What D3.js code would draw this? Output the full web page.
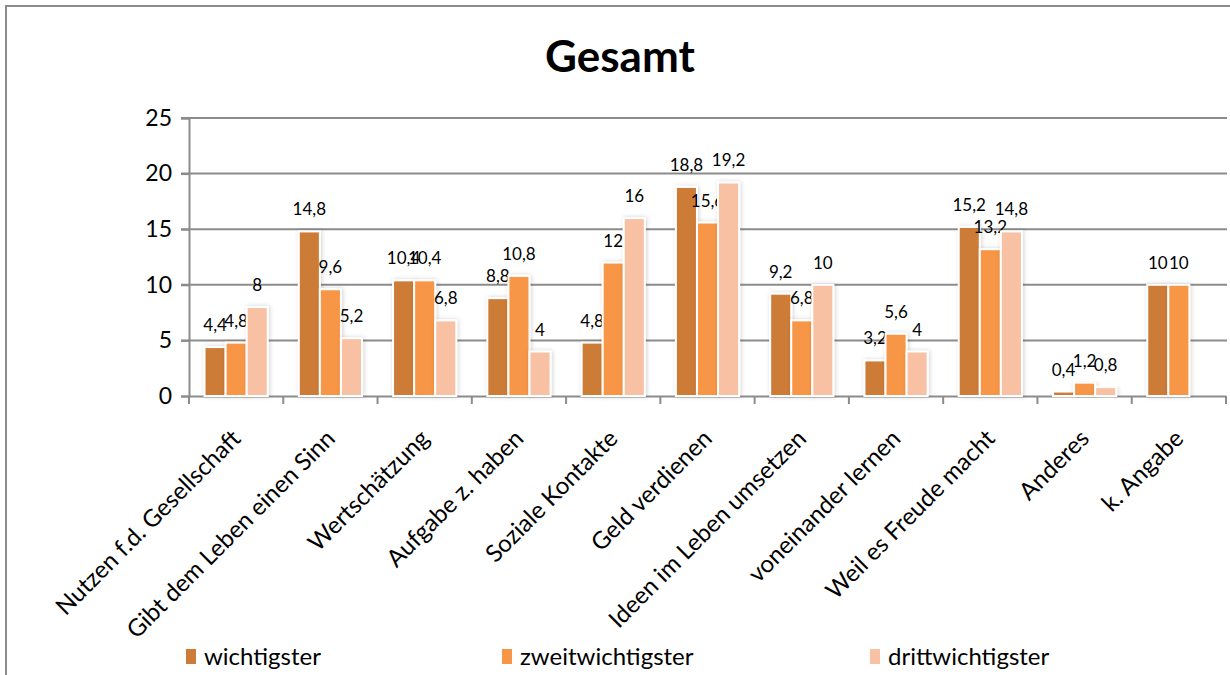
<!DOCTYPE html>
<html>
<head>
<meta charset="utf-8">
<script src="https://cdnjs.cloudflare.com/ajax/libs/d3/7.8.5/d3.min.js"></script>
<style>
  body { margin: 0; background: #fff; }
  text { font-family: Lato, "Open Sans", sans-serif; }
</style>
</head>
<body>
<div id="chart"></div>
<script>
// categories along the x axis
var categories = ["Nutzen f.d. Gesellschaft", "Gibt dem Leben einen Sinn", "Wertschätzung",
  "Aufgabe z. haben", "Soziale Kontakte", "Geld verdienen", "Ideen im Leben umsetzen",
  "voneinander lernen", "Weil es Freude macht", "Anderes", "k. Angabe"];

// series names and values (percent)
var seriesNames = ["wichtigster", "zweitwichtigster", "drittwichtigster"];
var wichtigster = [4.4, 14.8, 10.4, 8.8, 4.8, 18.8, 9.2, 3.2, 15.2, 0.4, 10];
var zweitwichtigster = [4.8, 9.6, 10.4, 10.8, 12, 15.6, 6.8, 5.6, 13.2, 1.2, 10];
var drittwichtigster = [8, 5.2, 6.8, 4, 16, 19.2, 10, 4, 14.8, 0.8, null];
var yTicks = [0, 5, 10, 15, 20, 25];

var colors = ["#CD7B38", "#F79646", "#F9C1A3"];

var width = 1230;
var height = 675;

var svg = d3.select("#chart")
  .append("svg")
  .attr("width", width)
  .attr("height", height);

// soft shadow behind bars, like the office chart
var defs = svg.append("defs");
var f = defs.append("filter").attr("id", "shadow")
  .attr("x", "-30%").attr("y", "-10%").attr("width", "160%").attr("height", "120%");
f.append("feDropShadow").attr("dx", 1).attr("dy", 0).attr("stdDeviation", 2)
  .attr("flood-color", "#000").attr("flood-opacity", 0.18);

// outer chart frame
svg.append("rect")
  .attr("x", 6).attr("y", 6)
  .attr("width", 1240).attr("height", 700)
  .attr("fill", "none")
  .attr("stroke", "#8c8c8c")
  .attr("stroke-width", 2);

// title
svg.append("text")
  .attr("x", 620).attr("y", 72)
  .attr("text-anchor", "middle")
  .style("font-size", "44px")
  .style("font-weight", "bold")
  .text("Gesamt");

var plotLeft = 189, plotRight = 1226, plotTop = 118, plotBottom = 396;

var x0 = d3.scaleBand()
  .domain(categories)
  .range([plotLeft, plotRight]);

var x1 = d3.scaleBand()
  .domain(seriesNames)
  .range([x0.bandwidth() / 2 - 31.6, x0.bandwidth() / 2 + 31.6]);

var y = d3.scaleLinear()
  .domain([0, 25])
  .range([plotBottom, plotTop]);

// gridlines
svg.append("g")
  .selectAll("line")
  .data(yTicks.filter(d => d > 0))
  .enter()
  .append("line")
  .attr("x1", plotLeft - 8).attr("x2", plotRight + 1)
  .attr("y1", d => y(d)).attr("y2", d => y(d))
  .attr("stroke", "#8c8c8c")
  .attr("stroke-width", 2);

// y axis
var yAxis = svg.append("g")
  .attr("transform", "translate(" + plotLeft + ",0)")
  .call(d3.axisLeft(y).tickValues(yTicks).tickSize(8).tickPadding(9));
yAxis.select(".domain").attr("stroke", "#8c8c8c").attr("stroke-width", 2);
yAxis.selectAll(".tick line").attr("stroke", "#8c8c8c").attr("stroke-width", 2);
yAxis.selectAll(".tick text").style("font-size", "23px").attr("fill", "#000")
  .style("font-family", "Lato, sans-serif");

// x axis with ticks between categories
var xAxis = svg.append("g")
  .attr("transform", "translate(0," + plotBottom + ")")
  .call(d3.axisBottom(x0).tickSize(0).tickFormat(""));
xAxis.select(".domain").attr("stroke", "#8c8c8c").attr("stroke-width", 2);

svg.append("g")
  .selectAll("line")
  .data(categories.concat(["end"]))
  .enter()
  .append("line")
  .attr("x1", (d, i) => i < categories.length ? x0(d) : plotRight)
  .attr("x2", (d, i) => i < categories.length ? x0(d) : plotRight)
  .attr("y1", plotBottom).attr("y2", plotBottom + 8)
  .attr("stroke", "#8c8c8c")
  .attr("stroke-width", 2);

// rotated category labels
svg.append("g")
  .selectAll("text")
  .data(categories)
  .enter()
  .append("text")
  .attr("text-anchor", "end")
  .attr("transform", d => "translate(" + (x0(d) + x0.bandwidth() / 2 + 6) + "," + (plotBottom + 44) + ") rotate(-45)")
  .style("font-size", "24px")
  .text(d => d);

// bars
var rows = categories.map((c, i) => ({
  cat: c,
  vals: [wichtigster[i], zweitwichtigster[i], drittwichtigster[i]]
}));

var groups = svg.append("g")
  .selectAll("g")
  .data(rows)
  .enter()
  .append("g")
  .attr("transform", d => "translate(" + x0(d.cat) + ",0)");

var cells = groups.selectAll("g")
  .data(d => d.vals.map((v, j) => ({ name: seriesNames[j], v: v, j: j })).filter(e => e.v != null))
  .enter()
  .append("g");

cells.append("rect")
  .attr("x", d => x1(d.name))
  .attr("y", d => y(d.v))
  .attr("width", x1.bandwidth())
  .attr("height", d => plotBottom - y(d.v))
  .attr("fill", d => colors[d.j])
  .attr("stroke", "#fff")
  .attr("stroke-width", 2)
  .attr("filter", "url(#shadow)");

// value labels above the bars
cells.append("text")
  .attr("x", d => x1(d.name) + x1.bandwidth() / 2)
  .attr("y", d => y(d.v) - 16)
  .attr("text-anchor", "middle")
  .style("font-size", "17px")
  .text(d => String(d.v).replace(".", ","));

// legend
var legendX = [186, 502, 870];
var legend = svg.append("g")
  .selectAll("g")
  .data(seriesNames)
  .enter()
  .append("g")
  .attr("transform", (d, i) => "translate(" + legendX[i] + ",649)");

legend.append("rect")
  .attr("width", 10).attr("height", 15)
  .attr("fill", (d, i) => colors[i]);

legend.append("text")
  .attr("x", 18).attr("y", 16)
  .style("font-size", "24px")
  .text(d => d);
</script>
</body>
</html>
